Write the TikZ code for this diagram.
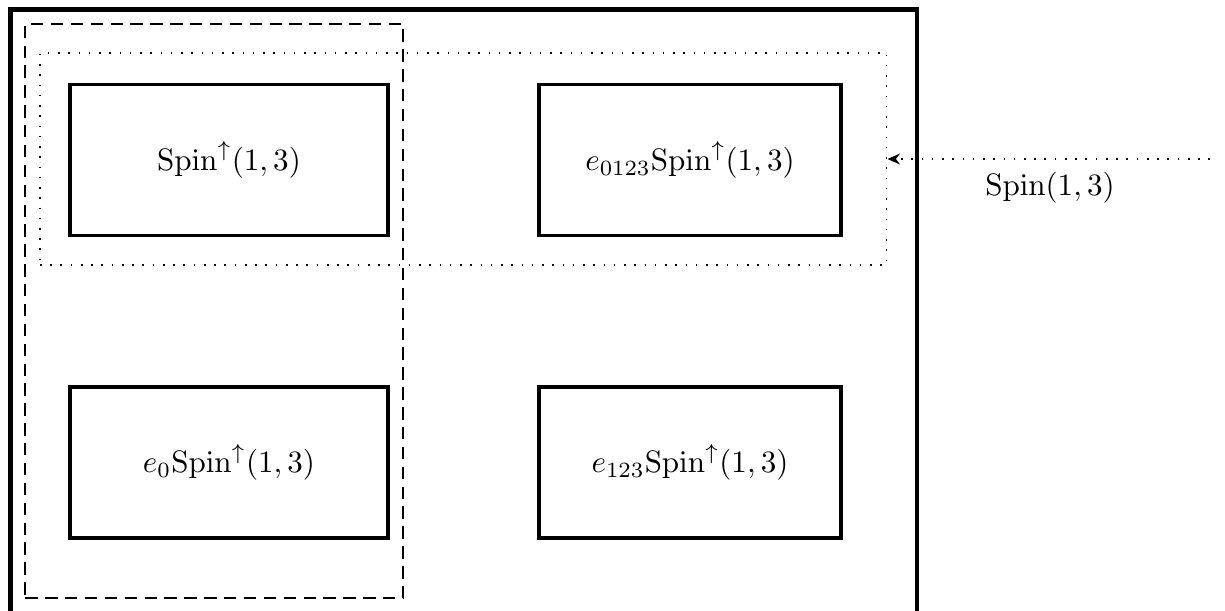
\documentclass[tikz,border=0pt]{standalone}
\usetikzlibrary{arrows.meta}
\begin{document}
\begin{tikzpicture}[x=0.322pt,y=-0.322pt,
  groupbox/.style={draw,line width=1pt,minimum width=318*0.322pt,minimum height=151*0.322pt,inner sep=0pt},
  outerframe/.style={draw,line width=1.3pt},
  dashframe/.style={draw,line width=0.65pt,dash pattern=on 4pt off 2.4pt},
  dotframe/.style={draw,line width=0.5pt,dash pattern=on 0.5pt off 2.8pt},
  every node/.style={font=\normalsize}]
\useasboundingbox (0,0) rectangle (1225,610);
\clip (0,0) rectangle (1225,610);
% outer thick frame (bottom edge beyond picture)
\draw[outerframe] (10.5,9.5) rectangle (916.5,640);
% boxes
\node[groupbox] (a) at (229,160) {$\mathrm{Spin}^{\uparrow}(1,3)$};
\node[groupbox,minimum width=302*0.322pt] (b) at (690,160) {$e_{0123}\mathrm{Spin}^{\uparrow}(1,3)$};
\node[groupbox] (c) at (229,462.5) {$e_{0}\mathrm{Spin}^{\uparrow}(1,3)$};
\node[groupbox,minimum width=302*0.322pt] (d) at (690,462.5) {$e_{123}\mathrm{Spin}^{\uparrow}(1,3)$};
% dashed frame
\node[dashframe,inner sep=0pt,minimum width=378*0.322pt,minimum height=574*0.322pt] (dash) at (214.25,311) {};
% dotted frame
\node[dotframe,inner sep=0pt,minimum width=846.7*0.322pt,minimum height=212*0.322pt] (dot) at (463.35,159) {};
% arrow
\coordinate (src) at (1210,159);
\draw[dotframe,-{Stealth[length=4pt,width=3.5pt]}] (src) -- (dot.east);
\node (lbl) at (1050,188) {$\mathrm{Spin}(1,3)$};
\end{tikzpicture}
\end{document}
